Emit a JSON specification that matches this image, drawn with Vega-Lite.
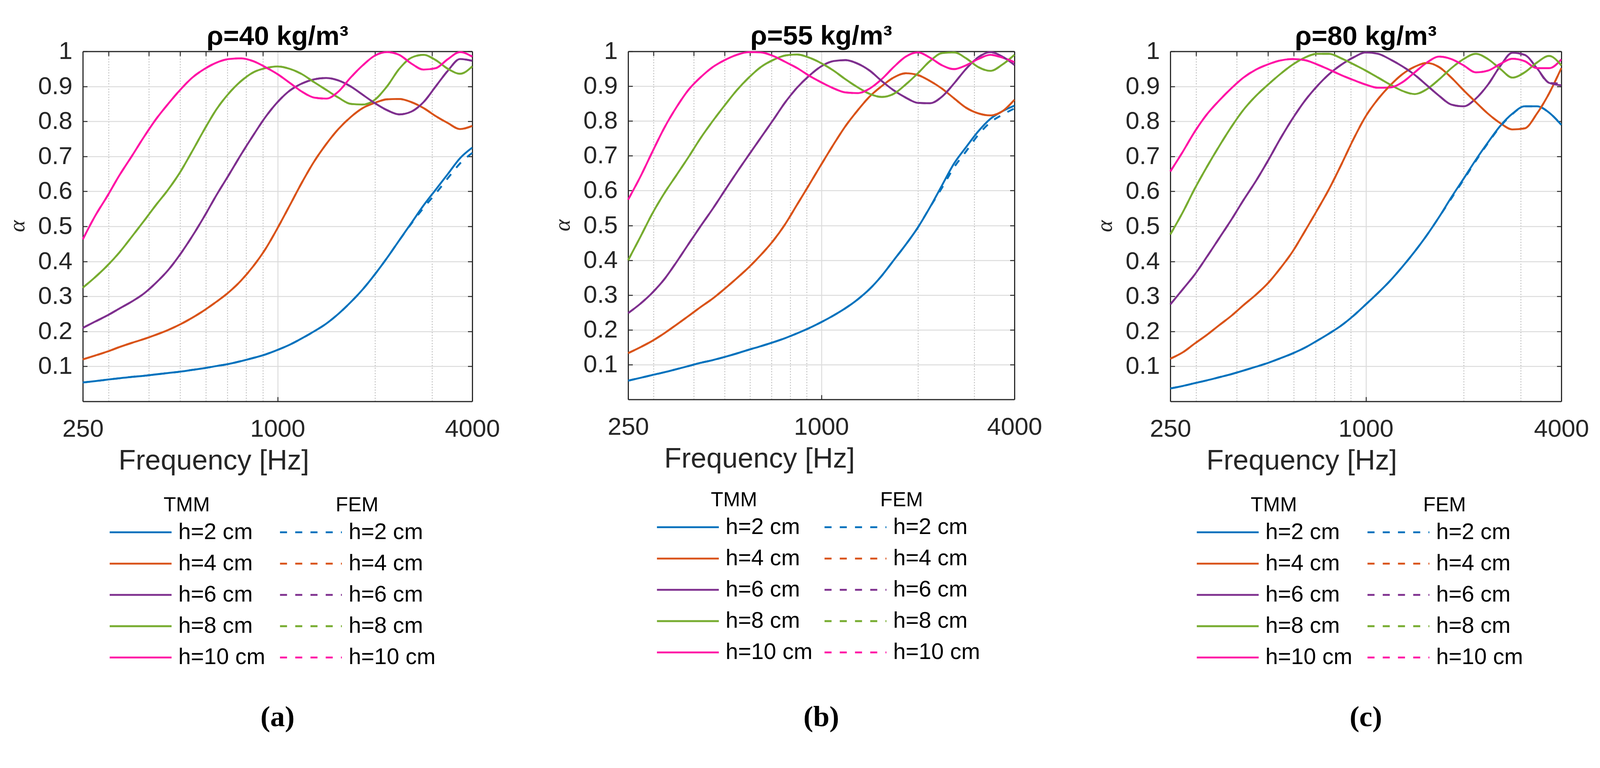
{
"$schema":"https://vega.github.io/schema/vega-lite/v6.json",
"background":"white",
"autosize":{"type":"none"},
"padding":{"left":212,"top":131.5,"right":4051,"bottom":1834.5},
"config":{"font":"Liberation Sans","view":{"stroke":null},"axis":{"labelFont":"Liberation Sans","titleFont":"Liberation Sans"}},
"datasets":{
"a":[
{"h":2,"f":250,"t":0.054,"e":0.054},{"h":2,"f":273,"t":0.058,"e":0.058},{"h":2,"f":297,"t":0.062,"e":0.062},{"h":2,"f":324,"t":0.066,"e":0.066},{"h":2,"f":354,"t":0.07,"e":0.07},{"h":2,"f":386,"t":0.073,"e":0.073},{"h":2,"f":420,"t":0.077,"e":0.077},{"h":2,"f":459,"t":0.081,"e":0.081},{"h":2,"f":500,"t":0.085,"e":0.085},{"h":2,"f":545,"t":0.09,"e":0.09},{"h":2,"f":595,"t":0.095,"e":0.095},{"h":2,"f":648,"t":0.101,"e":0.101},{"h":2,"f":707,"t":0.107,"e":0.107},{"h":2,"f":771,"t":0.115,"e":0.115},{"h":2,"f":841,"t":0.124,"e":0.124},{"h":2,"f":917,"t":0.134,"e":0.134},{"h":2,"f":1000,"t":0.147,"e":0.147},{"h":2,"f":1091,"t":0.162,"e":0.162},{"h":2,"f":1189,"t":0.18,"e":0.18},{"h":2,"f":1297,"t":0.2,"e":0.2},{"h":2,"f":1414,"t":0.222,"e":0.222},{"h":2,"f":1542,"t":0.25,"e":0.25},{"h":2,"f":1682,"t":0.283,"e":0.283},{"h":2,"f":1834,"t":0.32,"e":0.32},{"h":2,"f":2000,"t":0.363,"e":0.363},{"h":2,"f":2181,"t":0.41,"e":0.41},{"h":2,"f":2378,"t":0.46,"e":0.46},{"h":2,"f":2594,"t":0.51,"e":0.508},{"h":2,"f":2828,"t":0.56,"e":0.553},{"h":2,"f":3084,"t":0.605,"e":0.594},{"h":2,"f":3364,"t":0.65,"e":0.638},{"h":2,"f":3668,"t":0.695,"e":0.68},{"h":2,"f":4000,"t":0.725,"e":0.71},
{"h":4,"f":250,"t":0.12,"e":0.12},{"h":4,"f":273,"t":0.131,"e":0.131},{"h":4,"f":297,"t":0.142,"e":0.142},{"h":4,"f":324,"t":0.155,"e":0.155},{"h":4,"f":354,"t":0.167,"e":0.167},{"h":4,"f":386,"t":0.178,"e":0.178},{"h":4,"f":420,"t":0.19,"e":0.19},{"h":4,"f":459,"t":0.204,"e":0.204},{"h":4,"f":500,"t":0.22,"e":0.22},{"h":4,"f":545,"t":0.239,"e":0.239},{"h":4,"f":595,"t":0.261,"e":0.261},{"h":4,"f":648,"t":0.285,"e":0.285},{"h":4,"f":707,"t":0.312,"e":0.312},{"h":4,"f":771,"t":0.345,"e":0.345},{"h":4,"f":841,"t":0.386,"e":0.386},{"h":4,"f":917,"t":0.435,"e":0.435},{"h":4,"f":1000,"t":0.495,"e":0.495},{"h":4,"f":1091,"t":0.56,"e":0.56},{"h":4,"f":1189,"t":0.625,"e":0.625},{"h":4,"f":1297,"t":0.685,"e":0.685},{"h":4,"f":1414,"t":0.735,"e":0.735},{"h":4,"f":1542,"t":0.778,"e":0.778},{"h":4,"f":1682,"t":0.812,"e":0.812},{"h":4,"f":1834,"t":0.838,"e":0.838},{"h":4,"f":2000,"t":0.853,"e":0.853},{"h":4,"f":2181,"t":0.863,"e":0.863},{"h":4,"f":2378,"t":0.864,"e":0.864},{"h":4,"f":2594,"t":0.855,"e":0.855},{"h":4,"f":2828,"t":0.838,"e":0.838},{"h":4,"f":3084,"t":0.815,"e":0.815},{"h":4,"f":3364,"t":0.795,"e":0.795},{"h":4,"f":3668,"t":0.778,"e":0.778},{"h":4,"f":4000,"t":0.787,"e":0.787},
{"h":6,"f":250,"t":0.21,"e":0.21},{"h":6,"f":273,"t":0.228,"e":0.228},{"h":6,"f":297,"t":0.245,"e":0.245},{"h":6,"f":324,"t":0.265,"e":0.265},{"h":6,"f":354,"t":0.285,"e":0.285},{"h":6,"f":386,"t":0.308,"e":0.308},{"h":6,"f":420,"t":0.338,"e":0.338},{"h":6,"f":459,"t":0.375,"e":0.375},{"h":6,"f":500,"t":0.42,"e":0.42},{"h":6,"f":545,"t":0.472,"e":0.472},{"h":6,"f":595,"t":0.53,"e":0.53},{"h":6,"f":648,"t":0.59,"e":0.59},{"h":6,"f":707,"t":0.647,"e":0.647},{"h":6,"f":771,"t":0.705,"e":0.705},{"h":6,"f":841,"t":0.76,"e":0.76},{"h":6,"f":917,"t":0.812,"e":0.812},{"h":6,"f":1000,"t":0.855,"e":0.855},{"h":6,"f":1091,"t":0.888,"e":0.888},{"h":6,"f":1189,"t":0.908,"e":0.908},{"h":6,"f":1297,"t":0.92,"e":0.92},{"h":6,"f":1414,"t":0.924,"e":0.924},{"h":6,"f":1542,"t":0.917,"e":0.917},{"h":6,"f":1682,"t":0.9,"e":0.9},{"h":6,"f":1834,"t":0.876,"e":0.876},{"h":6,"f":2000,"t":0.852,"e":0.852},{"h":6,"f":2181,"t":0.832,"e":0.832},{"h":6,"f":2378,"t":0.82,"e":0.82},{"h":6,"f":2594,"t":0.828,"e":0.828},{"h":6,"f":2828,"t":0.855,"e":0.855},{"h":6,"f":3084,"t":0.9,"e":0.9},{"h":6,"f":3364,"t":0.945,"e":0.945},{"h":6,"f":3668,"t":0.978,"e":0.978},{"h":6,"f":4000,"t":0.973,"e":0.973},
{"h":8,"f":250,"t":0.325,"e":0.325},{"h":8,"f":273,"t":0.355,"e":0.355},{"h":8,"f":297,"t":0.387,"e":0.387},{"h":8,"f":324,"t":0.425,"e":0.425},{"h":8,"f":354,"t":0.47,"e":0.47},{"h":8,"f":386,"t":0.515,"e":0.515},{"h":8,"f":420,"t":0.56,"e":0.56},{"h":8,"f":459,"t":0.605,"e":0.605},{"h":8,"f":500,"t":0.655,"e":0.655},{"h":8,"f":545,"t":0.715,"e":0.715},{"h":8,"f":595,"t":0.778,"e":0.778},{"h":8,"f":648,"t":0.835,"e":0.835},{"h":8,"f":707,"t":0.88,"e":0.88},{"h":8,"f":771,"t":0.915,"e":0.915},{"h":8,"f":841,"t":0.94,"e":0.94},{"h":8,"f":917,"t":0.952,"e":0.952},{"h":8,"f":1000,"t":0.957,"e":0.957},{"h":8,"f":1091,"t":0.95,"e":0.95},{"h":8,"f":1189,"t":0.935,"e":0.935},{"h":8,"f":1297,"t":0.912,"e":0.912},{"h":8,"f":1414,"t":0.89,"e":0.89},{"h":8,"f":1542,"t":0.868,"e":0.868},{"h":8,"f":1682,"t":0.85,"e":0.85},{"h":8,"f":1834,"t":0.848,"e":0.848},{"h":8,"f":2000,"t":0.862,"e":0.862},{"h":8,"f":2181,"t":0.9,"e":0.9},{"h":8,"f":2378,"t":0.95,"e":0.95},{"h":8,"f":2594,"t":0.982,"e":0.982},{"h":8,"f":2828,"t":0.99,"e":0.99},{"h":8,"f":3084,"t":0.975,"e":0.975},{"h":8,"f":3364,"t":0.95,"e":0.95},{"h":8,"f":3668,"t":0.936,"e":0.936},{"h":8,"f":4000,"t":0.957,"e":0.957},
{"h":10,"f":250,"t":0.463,"e":0.463},{"h":10,"f":273,"t":0.53,"e":0.53},{"h":10,"f":297,"t":0.585,"e":0.585},{"h":10,"f":324,"t":0.645,"e":0.645},{"h":10,"f":354,"t":0.7,"e":0.7},{"h":10,"f":386,"t":0.755,"e":0.755},{"h":10,"f":420,"t":0.805,"e":0.805},{"h":10,"f":459,"t":0.85,"e":0.85},{"h":10,"f":500,"t":0.89,"e":0.89},{"h":10,"f":545,"t":0.925,"e":0.925},{"h":10,"f":595,"t":0.95,"e":0.95},{"h":10,"f":648,"t":0.968,"e":0.968},{"h":10,"f":707,"t":0.978,"e":0.978},{"h":10,"f":771,"t":0.98,"e":0.98},{"h":10,"f":841,"t":0.972,"e":0.972},{"h":10,"f":917,"t":0.955,"e":0.955},{"h":10,"f":1000,"t":0.935,"e":0.935},{"h":10,"f":1091,"t":0.91,"e":0.91},{"h":10,"f":1189,"t":0.885,"e":0.885},{"h":10,"f":1297,"t":0.868,"e":0.868},{"h":10,"f":1414,"t":0.865,"e":0.865},{"h":10,"f":1542,"t":0.885,"e":0.885},{"h":10,"f":1682,"t":0.925,"e":0.925},{"h":10,"f":1834,"t":0.96,"e":0.96},{"h":10,"f":2000,"t":0.988,"e":0.988},{"h":10,"f":2181,"t":0.998,"e":0.998},{"h":10,"f":2378,"t":0.99,"e":0.99},{"h":10,"f":2594,"t":0.965,"e":0.965},{"h":10,"f":2828,"t":0.948,"e":0.948},{"h":10,"f":3084,"t":0.952,"e":0.952},{"h":10,"f":3364,"t":0.978,"e":0.978},{"h":10,"f":3668,"t":0.998,"e":0.998},{"h":10,"f":4000,"t":0.985,"e":0.985}
],
"b":[
{"h":2,"f":250,"t":0.054,"e":0.054},{"h":2,"f":273,"t":0.062,"e":0.062},{"h":2,"f":297,"t":0.07,"e":0.07},{"h":2,"f":324,"t":0.078,"e":0.078},{"h":2,"f":354,"t":0.087,"e":0.087},{"h":2,"f":386,"t":0.096,"e":0.096},{"h":2,"f":420,"t":0.105,"e":0.105},{"h":2,"f":459,"t":0.113,"e":0.113},{"h":2,"f":500,"t":0.122,"e":0.122},{"h":2,"f":545,"t":0.132,"e":0.132},{"h":2,"f":595,"t":0.143,"e":0.143},{"h":2,"f":648,"t":0.153,"e":0.153},{"h":2,"f":707,"t":0.164,"e":0.164},{"h":2,"f":771,"t":0.176,"e":0.176},{"h":2,"f":841,"t":0.19,"e":0.19},{"h":2,"f":917,"t":0.205,"e":0.205},{"h":2,"f":1000,"t":0.222,"e":0.222},{"h":2,"f":1091,"t":0.241,"e":0.241},{"h":2,"f":1189,"t":0.262,"e":0.262},{"h":2,"f":1297,"t":0.287,"e":0.287},{"h":2,"f":1414,"t":0.317,"e":0.317},{"h":2,"f":1542,"t":0.355,"e":0.355},{"h":2,"f":1682,"t":0.4,"e":0.4},{"h":2,"f":1834,"t":0.445,"e":0.445},{"h":2,"f":2000,"t":0.494,"e":0.494},{"h":2,"f":2181,"t":0.552,"e":0.552},{"h":2,"f":2378,"t":0.615,"e":0.608},{"h":2,"f":2594,"t":0.678,"e":0.667},{"h":2,"f":2828,"t":0.725,"e":0.713},{"h":2,"f":3084,"t":0.77,"e":0.76},{"h":2,"f":3364,"t":0.806,"e":0.796},{"h":2,"f":3668,"t":0.828,"e":0.818},{"h":2,"f":4000,"t":0.844,"e":0.836},
{"h":4,"f":250,"t":0.133,"e":0.133},{"h":4,"f":273,"t":0.15,"e":0.15},{"h":4,"f":297,"t":0.168,"e":0.168},{"h":4,"f":324,"t":0.19,"e":0.19},{"h":4,"f":354,"t":0.215,"e":0.215},{"h":4,"f":386,"t":0.24,"e":0.24},{"h":4,"f":420,"t":0.265,"e":0.265},{"h":4,"f":459,"t":0.29,"e":0.29},{"h":4,"f":500,"t":0.318,"e":0.318},{"h":4,"f":545,"t":0.348,"e":0.348},{"h":4,"f":595,"t":0.38,"e":0.38},{"h":4,"f":648,"t":0.415,"e":0.415},{"h":4,"f":707,"t":0.455,"e":0.455},{"h":4,"f":771,"t":0.503,"e":0.503},{"h":4,"f":841,"t":0.56,"e":0.56},{"h":4,"f":917,"t":0.617,"e":0.617},{"h":4,"f":1000,"t":0.675,"e":0.675},{"h":4,"f":1091,"t":0.732,"e":0.732},{"h":4,"f":1189,"t":0.785,"e":0.785},{"h":4,"f":1297,"t":0.83,"e":0.83},{"h":4,"f":1414,"t":0.87,"e":0.87},{"h":4,"f":1542,"t":0.9,"e":0.9},{"h":4,"f":1682,"t":0.925,"e":0.925},{"h":4,"f":1834,"t":0.937,"e":0.937},{"h":4,"f":2000,"t":0.932,"e":0.932},{"h":4,"f":2181,"t":0.915,"e":0.915},{"h":4,"f":2378,"t":0.893,"e":0.893},{"h":4,"f":2594,"t":0.865,"e":0.865},{"h":4,"f":2828,"t":0.838,"e":0.838},{"h":4,"f":3084,"t":0.822,"e":0.822},{"h":4,"f":3364,"t":0.816,"e":0.816},{"h":4,"f":3668,"t":0.828,"e":0.828},{"h":4,"f":4000,"t":0.861,"e":0.861},
{"h":6,"f":250,"t":0.248,"e":0.248},{"h":6,"f":273,"t":0.275,"e":0.275},{"h":6,"f":297,"t":0.306,"e":0.306},{"h":6,"f":324,"t":0.345,"e":0.345},{"h":6,"f":354,"t":0.395,"e":0.395},{"h":6,"f":386,"t":0.447,"e":0.447},{"h":6,"f":420,"t":0.497,"e":0.497},{"h":6,"f":459,"t":0.548,"e":0.548},{"h":6,"f":500,"t":0.6,"e":0.6},{"h":6,"f":545,"t":0.652,"e":0.652},{"h":6,"f":595,"t":0.703,"e":0.703},{"h":6,"f":648,"t":0.752,"e":0.752},{"h":6,"f":707,"t":0.802,"e":0.802},{"h":6,"f":771,"t":0.853,"e":0.853},{"h":6,"f":841,"t":0.896,"e":0.896},{"h":6,"f":917,"t":0.93,"e":0.93},{"h":6,"f":1000,"t":0.957,"e":0.957},{"h":6,"f":1091,"t":0.972,"e":0.972},{"h":6,"f":1189,"t":0.975,"e":0.975},{"h":6,"f":1297,"t":0.965,"e":0.965},{"h":6,"f":1414,"t":0.945,"e":0.945},{"h":6,"f":1542,"t":0.915,"e":0.915},{"h":6,"f":1682,"t":0.888,"e":0.888},{"h":6,"f":1834,"t":0.867,"e":0.867},{"h":6,"f":2000,"t":0.852,"e":0.852},{"h":6,"f":2181,"t":0.851,"e":0.851},{"h":6,"f":2378,"t":0.87,"e":0.87},{"h":6,"f":2594,"t":0.908,"e":0.908},{"h":6,"f":2828,"t":0.95,"e":0.95},{"h":6,"f":3084,"t":0.983,"e":0.983},{"h":6,"f":3364,"t":0.998,"e":0.998},{"h":6,"f":3668,"t":0.985,"e":0.985},{"h":6,"f":4000,"t":0.961,"e":0.961},
{"h":8,"f":250,"t":0.4,"e":0.4},{"h":8,"f":273,"t":0.467,"e":0.467},{"h":8,"f":297,"t":0.533,"e":0.533},{"h":8,"f":324,"t":0.592,"e":0.592},{"h":8,"f":354,"t":0.645,"e":0.645},{"h":8,"f":386,"t":0.697,"e":0.697},{"h":8,"f":420,"t":0.75,"e":0.75},{"h":8,"f":459,"t":0.8,"e":0.8},{"h":8,"f":500,"t":0.845,"e":0.845},{"h":8,"f":545,"t":0.888,"e":0.888},{"h":8,"f":595,"t":0.925,"e":0.925},{"h":8,"f":648,"t":0.955,"e":0.955},{"h":8,"f":707,"t":0.975,"e":0.975},{"h":8,"f":771,"t":0.988,"e":0.988},{"h":8,"f":841,"t":0.991,"e":0.991},{"h":8,"f":917,"t":0.982,"e":0.982},{"h":8,"f":1000,"t":0.966,"e":0.966},{"h":8,"f":1091,"t":0.945,"e":0.945},{"h":8,"f":1189,"t":0.92,"e":0.92},{"h":8,"f":1297,"t":0.897,"e":0.897},{"h":8,"f":1414,"t":0.878,"e":0.878},{"h":8,"f":1542,"t":0.869,"e":0.869},{"h":8,"f":1682,"t":0.878,"e":0.878},{"h":8,"f":1834,"t":0.905,"e":0.905},{"h":8,"f":2000,"t":0.937,"e":0.937},{"h":8,"f":2181,"t":0.972,"e":0.972},{"h":8,"f":2378,"t":0.995,"e":0.995},{"h":8,"f":2594,"t":0.997,"e":0.997},{"h":8,"f":2828,"t":0.98,"e":0.98},{"h":8,"f":3084,"t":0.955,"e":0.955},{"h":8,"f":3364,"t":0.944,"e":0.944},{"h":8,"f":3668,"t":0.962,"e":0.962},{"h":8,"f":4000,"t":0.99,"e":0.99},
{"h":10,"f":250,"t":0.574,"e":0.574},{"h":10,"f":273,"t":0.64,"e":0.64},{"h":10,"f":297,"t":0.71,"e":0.71},{"h":10,"f":324,"t":0.78,"e":0.78},{"h":10,"f":354,"t":0.84,"e":0.84},{"h":10,"f":386,"t":0.89,"e":0.89},{"h":10,"f":420,"t":0.925,"e":0.925},{"h":10,"f":459,"t":0.955,"e":0.955},{"h":10,"f":500,"t":0.975,"e":0.975},{"h":10,"f":545,"t":0.99,"e":0.99},{"h":10,"f":595,"t":0.998,"e":0.998},{"h":10,"f":648,"t":0.997,"e":0.997},{"h":10,"f":707,"t":0.987,"e":0.987},{"h":10,"f":771,"t":0.97,"e":0.97},{"h":10,"f":841,"t":0.952,"e":0.952},{"h":10,"f":917,"t":0.93,"e":0.93},{"h":10,"f":1000,"t":0.911,"e":0.911},{"h":10,"f":1091,"t":0.894,"e":0.894},{"h":10,"f":1189,"t":0.882,"e":0.882},{"h":10,"f":1297,"t":0.88,"e":0.88},{"h":10,"f":1414,"t":0.893,"e":0.893},{"h":10,"f":1542,"t":0.92,"e":0.92},{"h":10,"f":1682,"t":0.955,"e":0.955},{"h":10,"f":1834,"t":0.985,"e":0.985},{"h":10,"f":2000,"t":0.997,"e":0.997},{"h":10,"f":2181,"t":0.982,"e":0.982},{"h":10,"f":2378,"t":0.96,"e":0.96},{"h":10,"f":2594,"t":0.949,"e":0.949},{"h":10,"f":2828,"t":0.96,"e":0.96},{"h":10,"f":3084,"t":0.978,"e":0.978},{"h":10,"f":3364,"t":0.99,"e":0.99},{"h":10,"f":3668,"t":0.982,"e":0.982},{"h":10,"f":4000,"t":0.969,"e":0.969}
],
"c":[
{"h":2,"f":250,"t":0.037,"e":0.037},{"h":2,"f":273,"t":0.044,"e":0.044},{"h":2,"f":297,"t":0.052,"e":0.052},{"h":2,"f":324,"t":0.06,"e":0.06},{"h":2,"f":354,"t":0.069,"e":0.069},{"h":2,"f":386,"t":0.078,"e":0.078},{"h":2,"f":420,"t":0.088,"e":0.088},{"h":2,"f":459,"t":0.099,"e":0.099},{"h":2,"f":500,"t":0.11,"e":0.11},{"h":2,"f":545,"t":0.123,"e":0.123},{"h":2,"f":595,"t":0.137,"e":0.137},{"h":2,"f":648,"t":0.153,"e":0.153},{"h":2,"f":707,"t":0.173,"e":0.173},{"h":2,"f":771,"t":0.194,"e":0.194},{"h":2,"f":841,"t":0.217,"e":0.217},{"h":2,"f":917,"t":0.245,"e":0.245},{"h":2,"f":1000,"t":0.277,"e":0.277},{"h":2,"f":1091,"t":0.31,"e":0.31},{"h":2,"f":1189,"t":0.345,"e":0.345},{"h":2,"f":1297,"t":0.385,"e":0.385},{"h":2,"f":1414,"t":0.428,"e":0.428},{"h":2,"f":1542,"t":0.475,"e":0.475},{"h":2,"f":1682,"t":0.527,"e":0.527},{"h":2,"f":1834,"t":0.583,"e":0.58},{"h":2,"f":2000,"t":0.636,"e":0.633},{"h":2,"f":2181,"t":0.69,"e":0.687},{"h":2,"f":2378,"t":0.74,"e":0.738},{"h":2,"f":2594,"t":0.787,"e":0.785},{"h":2,"f":2828,"t":0.822,"e":0.821},{"h":2,"f":3084,"t":0.843,"e":0.843},{"h":2,"f":3364,"t":0.843,"e":0.843},{"h":2,"f":3668,"t":0.825,"e":0.825},{"h":2,"f":4000,"t":0.79,"e":0.79},
{"h":4,"f":250,"t":0.122,"e":0.122},{"h":4,"f":273,"t":0.14,"e":0.14},{"h":4,"f":297,"t":0.165,"e":0.165},{"h":4,"f":324,"t":0.19,"e":0.19},{"h":4,"f":354,"t":0.218,"e":0.218},{"h":4,"f":386,"t":0.245,"e":0.245},{"h":4,"f":420,"t":0.275,"e":0.275},{"h":4,"f":459,"t":0.305,"e":0.305},{"h":4,"f":500,"t":0.338,"e":0.338},{"h":4,"f":545,"t":0.38,"e":0.38},{"h":4,"f":595,"t":0.428,"e":0.428},{"h":4,"f":648,"t":0.485,"e":0.485},{"h":4,"f":707,"t":0.545,"e":0.545},{"h":4,"f":771,"t":0.607,"e":0.607},{"h":4,"f":841,"t":0.677,"e":0.677},{"h":4,"f":917,"t":0.75,"e":0.75},{"h":4,"f":1000,"t":0.815,"e":0.815},{"h":4,"f":1091,"t":0.864,"e":0.864},{"h":4,"f":1189,"t":0.903,"e":0.903},{"h":4,"f":1297,"t":0.935,"e":0.935},{"h":4,"f":1414,"t":0.956,"e":0.956},{"h":4,"f":1542,"t":0.967,"e":0.967},{"h":4,"f":1682,"t":0.955,"e":0.955},{"h":4,"f":1834,"t":0.925,"e":0.925},{"h":4,"f":2000,"t":0.889,"e":0.889},{"h":4,"f":2181,"t":0.855,"e":0.855},{"h":4,"f":2378,"t":0.822,"e":0.822},{"h":4,"f":2594,"t":0.795,"e":0.795},{"h":4,"f":2828,"t":0.777,"e":0.777},{"h":4,"f":3084,"t":0.78,"e":0.78},{"h":4,"f":3364,"t":0.822,"e":0.822},{"h":4,"f":3668,"t":0.88,"e":0.88},{"h":4,"f":4000,"t":0.952,"e":0.952},
{"h":6,"f":250,"t":0.277,"e":0.277},{"h":6,"f":273,"t":0.32,"e":0.32},{"h":6,"f":297,"t":0.362,"e":0.362},{"h":6,"f":324,"t":0.413,"e":0.413},{"h":6,"f":354,"t":0.467,"e":0.467},{"h":6,"f":386,"t":0.52,"e":0.52},{"h":6,"f":420,"t":0.575,"e":0.575},{"h":6,"f":459,"t":0.63,"e":0.63},{"h":6,"f":500,"t":0.688,"e":0.688},{"h":6,"f":545,"t":0.75,"e":0.75},{"h":6,"f":595,"t":0.808,"e":0.808},{"h":6,"f":648,"t":0.858,"e":0.858},{"h":6,"f":707,"t":0.9,"e":0.9},{"h":6,"f":771,"t":0.935,"e":0.935},{"h":6,"f":841,"t":0.962,"e":0.962},{"h":6,"f":917,"t":0.983,"e":0.983},{"h":6,"f":1000,"t":0.997,"e":0.997},{"h":6,"f":1091,"t":0.993,"e":0.993},{"h":6,"f":1189,"t":0.977,"e":0.977},{"h":6,"f":1297,"t":0.957,"e":0.957},{"h":6,"f":1414,"t":0.933,"e":0.933},{"h":6,"f":1542,"t":0.903,"e":0.903},{"h":6,"f":1682,"t":0.873,"e":0.873},{"h":6,"f":1834,"t":0.848,"e":0.848},{"h":6,"f":2000,"t":0.843,"e":0.843},{"h":6,"f":2181,"t":0.865,"e":0.865},{"h":6,"f":2378,"t":0.905,"e":0.905},{"h":6,"f":2594,"t":0.958,"e":0.958},{"h":6,"f":2828,"t":0.996,"e":0.996},{"h":6,"f":3084,"t":0.99,"e":0.99},{"h":6,"f":3364,"t":0.952,"e":0.952},{"h":6,"f":3668,"t":0.91,"e":0.91},{"h":6,"f":4000,"t":0.903,"e":0.908},
{"h":8,"f":250,"t":0.477,"e":0.477},{"h":8,"f":273,"t":0.54,"e":0.54},{"h":8,"f":297,"t":0.607,"e":0.607},{"h":8,"f":324,"t":0.67,"e":0.67},{"h":8,"f":354,"t":0.73,"e":0.73},{"h":8,"f":386,"t":0.785,"e":0.785},{"h":8,"f":420,"t":0.833,"e":0.833},{"h":8,"f":459,"t":0.873,"e":0.873},{"h":8,"f":500,"t":0.905,"e":0.905},{"h":8,"f":545,"t":0.935,"e":0.935},{"h":8,"f":595,"t":0.962,"e":0.962},{"h":8,"f":648,"t":0.982,"e":0.982},{"h":8,"f":707,"t":0.993,"e":0.993},{"h":8,"f":771,"t":0.993,"e":0.993},{"h":8,"f":841,"t":0.98,"e":0.98},{"h":8,"f":917,"t":0.963,"e":0.963},{"h":8,"f":1000,"t":0.945,"e":0.945},{"h":8,"f":1091,"t":0.925,"e":0.925},{"h":8,"f":1189,"t":0.905,"e":0.905},{"h":8,"f":1297,"t":0.887,"e":0.887},{"h":8,"f":1414,"t":0.878,"e":0.878},{"h":8,"f":1542,"t":0.892,"e":0.892},{"h":8,"f":1682,"t":0.92,"e":0.92},{"h":8,"f":1834,"t":0.952,"e":0.952},{"h":8,"f":2000,"t":0.978,"e":0.978},{"h":8,"f":2181,"t":0.993,"e":0.993},{"h":8,"f":2378,"t":0.978,"e":0.978},{"h":8,"f":2594,"t":0.95,"e":0.95},{"h":8,"f":2828,"t":0.925,"e":0.925},{"h":8,"f":3084,"t":0.94,"e":0.94},{"h":8,"f":3364,"t":0.968,"e":0.968},{"h":8,"f":3668,"t":0.987,"e":0.987},{"h":8,"f":4000,"t":0.96,"e":0.96},
{"h":10,"f":250,"t":0.657,"e":0.657},{"h":10,"f":273,"t":0.713,"e":0.713},{"h":10,"f":297,"t":0.77,"e":0.77},{"h":10,"f":324,"t":0.82,"e":0.82},{"h":10,"f":354,"t":0.86,"e":0.86},{"h":10,"f":386,"t":0.895,"e":0.895},{"h":10,"f":420,"t":0.925,"e":0.925},{"h":10,"f":459,"t":0.948,"e":0.948},{"h":10,"f":500,"t":0.963,"e":0.963},{"h":10,"f":545,"t":0.974,"e":0.974},{"h":10,"f":595,"t":0.978,"e":0.978},{"h":10,"f":648,"t":0.975,"e":0.975},{"h":10,"f":707,"t":0.963,"e":0.963},{"h":10,"f":771,"t":0.948,"e":0.948},{"h":10,"f":841,"t":0.932,"e":0.932},{"h":10,"f":917,"t":0.918,"e":0.918},{"h":10,"f":1000,"t":0.905,"e":0.905},{"h":10,"f":1091,"t":0.896,"e":0.896},{"h":10,"f":1189,"t":0.897,"e":0.897},{"h":10,"f":1297,"t":0.912,"e":0.912},{"h":10,"f":1414,"t":0.94,"e":0.94},{"h":10,"f":1542,"t":0.968,"e":0.968},{"h":10,"f":1682,"t":0.985,"e":0.985},{"h":10,"f":1834,"t":0.978,"e":0.978},{"h":10,"f":2000,"t":0.96,"e":0.96},{"h":10,"f":2181,"t":0.94,"e":0.94},{"h":10,"f":2378,"t":0.945,"e":0.945},{"h":10,"f":2594,"t":0.964,"e":0.964},{"h":10,"f":2828,"t":0.979,"e":0.979},{"h":10,"f":3084,"t":0.972,"e":0.972},{"h":10,"f":3364,"t":0.952,"e":0.952},{"h":10,"f":3668,"t":0.952,"e":0.952},{"h":10,"f":4000,"t":0.977,"e":0.977}
]
},
"spacing":399,
"bounds":"flush",
"resolve":{"scale":{"color":"independent","stroke":"independent"},"legend":{"color":"independent","stroke":"independent"}},
"hconcat":[
{
"data":{"name":"a"},"width":997,"height":896,
"title":{"text":"(a)","orient":"bottom","anchor":"middle","font":"Liberation Serif","fontSize":75,"fontWeight":"bold","color":"#000000","offset":87},
"layer":[
{"mark":{"type":"line","strokeWidth":4.8,"interpolate":"monotone"},
"encoding":{
"x":{"field":"f","type":"quantitative","scale":{"type":"log","domain":[250,4000],"nice":false},"axis":{"orient":"bottom","values":[250,1000,4000],"format":"d","labelFlush":false,"labelOverlap":false,"labelFontSize":63.4,"labelColor":"#262626","labelPadding":51,"tickSize":-11.5,"tickWidth":2.4,"tickColor":"#262626","domainColor":"#262626","domainWidth":2.9,"grid":true,"gridColor":"#dcdcdc","gridWidth":2.4,"title":"Frequency [Hz]","titleFontSize":72,"titleFontWeight":"normal","titleColor":"#262626","titleX":335,"titleY":174,"titleAlign":"center","titleBaseline":"alphabetic"}},
"y":{"field":"t","type":"quantitative","scale":{"domain":[0,1],"nice":false},"axis":{"orient":"left","values":[0.1,0.2,0.3,0.4,0.5,0.6,0.7,0.8,0.9,1],"format":"~g","labelFontSize":63.4,"labelColor":"#262626","labelPadding":38.4,"tickSize":-11.5,"tickWidth":2.4,"tickColor":"#262626","domainColor":"#262626","domainWidth":2.9,"grid":true,"gridColor":"#dcdcdc","gridWidth":2.4,"title":"α","titleFont":"Liberation Serif","titleFontStyle":"italic","titleFontWeight":"normal","titleFontSize":58,"titleColor":"#262626","titleX":-151,"titleY":447,"titleAngle":270,"titleAlign":"center","titleBaseline":"alphabetic"}},
"stroke":{"field":"h","type":"ordinal","scale":{"domain":[2,4,6,8,10],"range":["#0072BD","#D95319","#7E2F8E","#77AC30","#FF12A5"]},"legend":{"orient":"none","legendX":66,"legendY":1136,"padding":0,"title":"TMM","titleFontSize":52,"titleFontWeight":"normal","titleColor":"#000000","titleAnchor":"middle","titlePadding":14.4,"labelFontSize":57.6,"labelColor":"#000000","labelOffset":14.4,"labelLimit":0,"labelExpr":"'h=' + datum.label + ' cm'","symbolType":"stroke","symbolSize":25091,"symbolStrokeWidth":4.8,"clipHeight":57.6,"rowPadding":21.1}}
}},
{"mark":{"type":"line","strokeWidth":4.8,"interpolate":"monotone","strokeDash":[18,21]},
"encoding":{
"x":{"field":"f","type":"quantitative","axis":{"orient":"top","values":[300,400,500,600,700,800,900,2000,3000],"labels":false,"tickSize":-11.5,"tickWidth":2.4,"tickColor":"#262626","domainColor":"#262626","domainWidth":2.9,"grid":true,"gridColor":"#b4b4b4","gridDash":[3,4],"gridWidth":1.9,"title":"ρ=40 kg/m³","titleFontSize":69,"titleFontWeight":"bold","titleColor":"#000000","titleX":498,"titleY":-17.3,"titleAlign":"center","titleBaseline":"alphabetic"}},
"y":{"field":"e","type":"quantitative","axis":{"orient":"right","values":[0.1,0.2,0.3,0.4,0.5,0.6,0.7,0.8,0.9,1],"labels":false,"grid":false,"tickSize":-11.5,"tickWidth":2.4,"tickColor":"#262626","domainColor":"#262626","domainWidth":2.9,"title":null}},
"color":{"field":"h","type":"ordinal","scale":{"range":["#0072BD","#D95319","#7E2F8E","#77AC30","#FF12A5"]},"legend":{"orient":"none","legendX":502,"legendY":1136,"padding":0,"title":"FEM","titleFontSize":52,"titleFontWeight":"normal","titleColor":"#000000","titleAnchor":"middle","titlePadding":14.4,"labelFontSize":57.6,"labelColor":"#000000","labelOffset":14.4,"labelLimit":0,"labelExpr":"'h=' + datum.label + ' cm'","symbolType":"stroke","symbolSize":25091,"symbolStrokeWidth":4.8,"symbolDash":[18,21],"clipHeight":57.6,"rowPadding":21.1}}
}}
],
"resolve":{"axis":{"x":"independent","y":"independent"}}
},
{
"data":{"name":"b"},"width":989,"height":891,
"title":{"text":"(b)","orient":"bottom","anchor":"middle","font":"Liberation Serif","fontSize":75,"fontWeight":"bold","color":"#000000","offset":100},
"layer":[
{"mark":{"type":"line","strokeWidth":4.8,"interpolate":"monotone"},
"encoding":{
"x":{"field":"f","type":"quantitative","scale":{"type":"log","domain":[250,4000],"nice":false},"axis":{"orient":"bottom","values":[250,1000,4000],"format":"d","labelFlush":false,"labelOverlap":false,"labelFontSize":63.4,"labelColor":"#262626","labelPadding":51,"tickSize":-11.5,"tickWidth":2.4,"tickColor":"#262626","domainColor":"#262626","domainWidth":2.9,"grid":true,"gridColor":"#dcdcdc","gridWidth":2.4,"title":"Frequency [Hz]","titleFontSize":72,"titleFontWeight":"normal","titleColor":"#262626","titleX":336,"titleY":174,"titleAlign":"center","titleBaseline":"alphabetic"}},
"y":{"field":"t","type":"quantitative","scale":{"domain":[0,1],"nice":false},"axis":{"orient":"left","values":[0.1,0.2,0.3,0.4,0.5,0.6,0.7,0.8,0.9,1],"format":"~g","labelFontSize":63.4,"labelColor":"#262626","labelPadding":38.4,"tickSize":-11.5,"tickWidth":2.4,"tickColor":"#262626","domainColor":"#262626","domainWidth":2.9,"grid":true,"gridColor":"#dcdcdc","gridWidth":2.4,"title":"α","titleFont":"Liberation Serif","titleFontStyle":"italic","titleFontWeight":"normal","titleFontSize":58,"titleColor":"#262626","titleX":-151,"titleY":445,"titleAngle":270,"titleAlign":"center","titleBaseline":"alphabetic"}},
"stroke":{"field":"h","type":"ordinal","scale":{"domain":[2,4,6,8,10],"range":["#0072BD","#D95319","#7E2F8E","#77AC30","#FF12A5"]},"legend":{"orient":"none","legendX":71,"legendY":1123,"padding":0,"title":"TMM","titleFontSize":52,"titleFontWeight":"normal","titleColor":"#000000","titleAnchor":"middle","titlePadding":14.4,"labelFontSize":57.6,"labelColor":"#000000","labelOffset":14.4,"labelLimit":0,"labelExpr":"'h=' + datum.label + ' cm'","symbolType":"stroke","symbolSize":25091,"symbolStrokeWidth":4.8,"clipHeight":57.6,"rowPadding":21.1}}
}},
{"mark":{"type":"line","strokeWidth":4.8,"interpolate":"monotone","strokeDash":[18,21]},
"encoding":{
"x":{"field":"f","type":"quantitative","axis":{"orient":"top","values":[300,400,500,600,700,800,900,2000,3000],"labels":false,"tickSize":-11.5,"tickWidth":2.4,"tickColor":"#262626","domainColor":"#262626","domainWidth":2.9,"grid":true,"gridColor":"#b4b4b4","gridDash":[3,4],"gridWidth":1.9,"title":"ρ=55 kg/m³","titleFontSize":69,"titleFontWeight":"bold","titleColor":"#000000","titleX":494,"titleY":-18.2,"titleAlign":"center","titleBaseline":"alphabetic"}},
"y":{"field":"e","type":"quantitative","axis":{"orient":"right","values":[0.1,0.2,0.3,0.4,0.5,0.6,0.7,0.8,0.9,1],"labels":false,"grid":false,"tickSize":-11.5,"tickWidth":2.4,"tickColor":"#262626","domainColor":"#262626","domainWidth":2.9,"title":null}},
"color":{"field":"h","type":"ordinal","scale":{"range":["#0072BD","#D95319","#7E2F8E","#77AC30","#FF12A5"]},"legend":{"orient":"none","legendX":500,"legendY":1123,"padding":0,"title":"FEM","titleFontSize":52,"titleFontWeight":"normal","titleColor":"#000000","titleAnchor":"middle","titlePadding":14.4,"labelFontSize":57.6,"labelColor":"#000000","labelOffset":14.4,"labelLimit":0,"labelExpr":"'h=' + datum.label + ' cm'","symbolType":"stroke","symbolSize":25091,"symbolStrokeWidth":4.8,"symbolDash":[18,21],"clipHeight":57.6,"rowPadding":21.1}}
}}
],
"resolve":{"axis":{"x":"independent","y":"independent"}}
},
{
"data":{"name":"c"},"width":1001,"height":896,
"title":{"text":"(c)","orient":"bottom","anchor":"middle","font":"Liberation Serif","fontSize":75,"fontWeight":"bold","color":"#000000","offset":87},
"layer":[
{"mark":{"type":"line","strokeWidth":4.8,"interpolate":"monotone"},
"encoding":{
"x":{"field":"f","type":"quantitative","scale":{"type":"log","domain":[250,4000],"nice":false},"axis":{"orient":"bottom","values":[250,1000,4000],"format":"d","labelFlush":false,"labelOverlap":false,"labelFontSize":63.4,"labelColor":"#262626","labelPadding":51,"tickSize":-11.5,"tickWidth":2.4,"tickColor":"#262626","domainColor":"#262626","domainWidth":2.9,"grid":true,"gridColor":"#dcdcdc","gridWidth":2.4,"title":"Frequency [Hz]","titleFontSize":72,"titleFontWeight":"normal","titleColor":"#262626","titleX":336,"titleY":174,"titleAlign":"center","titleBaseline":"alphabetic"}},
"y":{"field":"t","type":"quantitative","scale":{"domain":[0,1],"nice":false},"axis":{"orient":"left","values":[0.1,0.2,0.3,0.4,0.5,0.6,0.7,0.8,0.9,1],"format":"~g","labelFontSize":63.4,"labelColor":"#262626","labelPadding":38.4,"tickSize":-11.5,"tickWidth":2.4,"tickColor":"#262626","domainColor":"#262626","domainWidth":2.9,"grid":true,"gridColor":"#dcdcdc","gridWidth":2.4,"title":"α","titleFont":"Liberation Serif","titleFontStyle":"italic","titleFontWeight":"normal","titleFontSize":58,"titleColor":"#262626","titleX":-151,"titleY":447,"titleAngle":270,"titleAlign":"center","titleBaseline":"alphabetic"}},
"stroke":{"field":"h","type":"ordinal","scale":{"domain":[2,4,6,8,10],"range":["#0072BD","#D95319","#7E2F8E","#77AC30","#FF12A5"]},"legend":{"orient":"none","legendX":65,"legendY":1136,"padding":0,"title":"TMM","titleFontSize":52,"titleFontWeight":"normal","titleColor":"#000000","titleAnchor":"middle","titlePadding":14.4,"labelFontSize":57.6,"labelColor":"#000000","labelOffset":14.4,"labelLimit":0,"labelExpr":"'h=' + datum.label + ' cm'","symbolType":"stroke","symbolSize":25091,"symbolStrokeWidth":4.8,"clipHeight":57.6,"rowPadding":21.1}}
}},
{"mark":{"type":"line","strokeWidth":4.8,"interpolate":"monotone","strokeDash":[18,21]},
"encoding":{
"x":{"field":"f","type":"quantitative","axis":{"orient":"top","values":[300,400,500,600,700,800,900,2000,3000],"labels":false,"tickSize":-11.5,"tickWidth":2.4,"tickColor":"#262626","domainColor":"#262626","domainWidth":2.9,"grid":true,"gridColor":"#b4b4b4","gridDash":[3,4],"gridWidth":1.9,"title":"ρ=80 kg/m³","titleFontSize":69,"titleFontWeight":"bold","titleColor":"#000000","titleX":500,"titleY":-17.3,"titleAlign":"center","titleBaseline":"alphabetic"}},
"y":{"field":"e","type":"quantitative","axis":{"orient":"right","values":[0.1,0.2,0.3,0.4,0.5,0.6,0.7,0.8,0.9,1],"labels":false,"grid":false,"tickSize":-11.5,"tickWidth":2.4,"tickColor":"#262626","domainColor":"#262626","domainWidth":2.9,"title":null}},
"color":{"field":"h","type":"ordinal","scale":{"range":["#0072BD","#D95319","#7E2F8E","#77AC30","#FF12A5"]},"legend":{"orient":"none","legendX":502,"legendY":1136,"padding":0,"title":"FEM","titleFontSize":52,"titleFontWeight":"normal","titleColor":"#000000","titleAnchor":"middle","titlePadding":14.4,"labelFontSize":57.6,"labelColor":"#000000","labelOffset":14.4,"labelLimit":0,"labelExpr":"'h=' + datum.label + ' cm'","symbolType":"stroke","symbolSize":25091,"symbolStrokeWidth":4.8,"symbolDash":[18,21],"clipHeight":57.6,"rowPadding":21.1}}
}}
],
"resolve":{"axis":{"x":"independent","y":"independent"}}
}
]
}
